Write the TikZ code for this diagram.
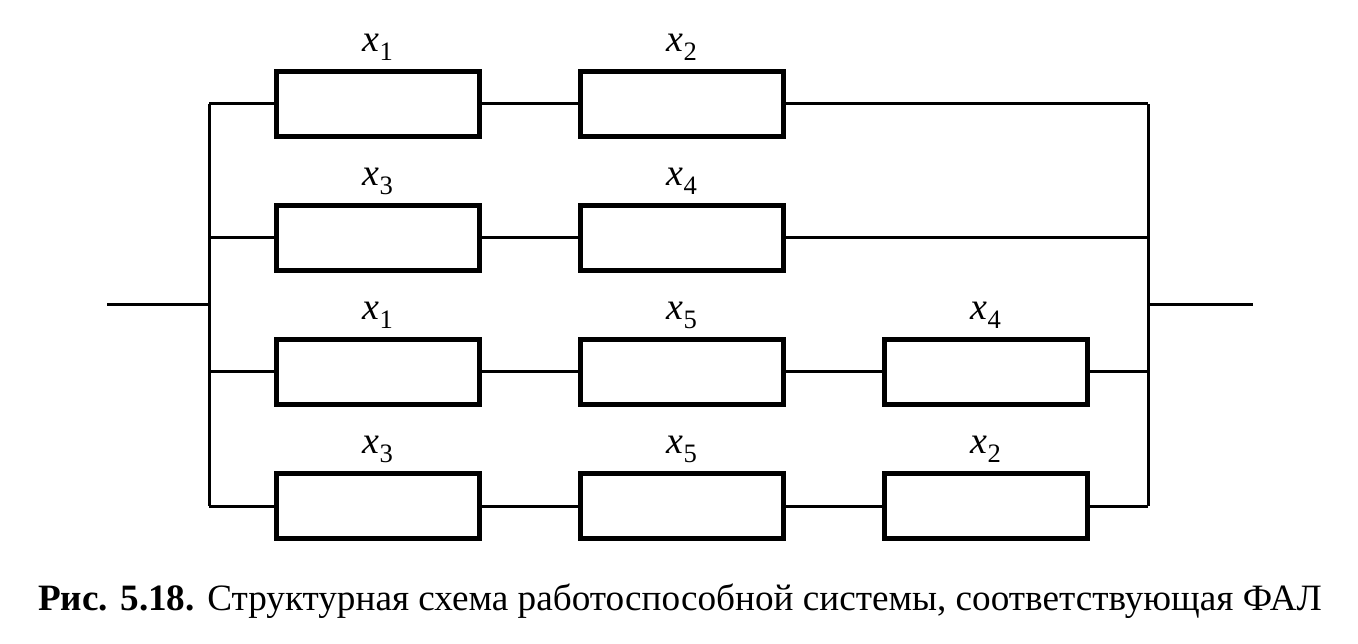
\documentclass[tikz,border=0pt]{standalone}
\usepackage{fontspec}
\setmainfont{Liberation Serif}
\usetikzlibrary{positioning}
\newcommand\xv[1]{\textit{x}\textsubscript{#1}}

\begin{document}
\begin{tikzpicture}
    [x=1pt, y=-1pt,
    blk/.style={draw, line width=5pt, minimum width=203pt, minimum height=65pt, inner sep=0pt,
      label={[lbl]above:#1}},
    lbl/.style={font=\fontsize{38}{40}\selectfont, inner sep=0pt, label distance=8pt},
    wire/.style={draw, line width=3pt}]
    \useasboundingbox (0,0) rectangle (1358,644);
    % first column
    \node [blk=\xv{1}] (A1) at (378,104) {};
    \node [blk=\xv{3}, below=64pt of A1] (B1) {};
    \node [blk=\xv{1}, below=64pt of B1] (C1) {};
    \node [blk=\xv{3}, below=64pt of C1] (D1) {};
    % second column
    \node [blk=\xv{2}, right=96pt of A1] (A2) {};
    \node [blk=\xv{4}, right=96pt of B1] (B2) {};
    \node [blk=\xv{5}, right=96pt of C1] (C2) {};
    \node [blk=\xv{5}, right=96pt of D1] (D2) {};
    % third column
    \node [blk=\xv{4}, right=96pt of C2] (C3) {};
    \node [blk=\xv{2}, right=96pt of D2] (D3) {};
    \coordinate (in) at (107,305);
    \coordinate (L) at (209,305);
    \coordinate (R) at (1148,305);
    \coordinate (out) at (1253,305);
    % buses
    \path [wire] (in) -- (L);
    \path [wire] (R) -- (out);
    \path [wire] (A1.west -| L) -- (D1.west -| L);
    \path [wire] (A2.east -| R) -- (D3.east -| R);
    \path [wire] (A1.west -| L) -- (A1.west);
    \path [wire] (B1.west -| L) -- (B1.west);
    \path [wire] (C1.west -| L) -- (C1.west);
    \path [wire] (D1.west -| L) -- (D1.west);
    \path [wire] (A2.east) -- (A2.east -| R);
    \path [wire] (B2.east) -- (B2.east -| R);
    \path [wire] (C3.east) -- (C3.east -| R);
    \path [wire] (D3.east) -- (D3.east -| R);
    % series links
    \path [wire] (A1) -- (A2);
    \path [wire] (B1) -- (B2);
    \path [wire] (C1) -- (C2) (C2) -- (C3);
    \path [wire] (D1) -- (D2) (D2) -- (D3);
    \node [anchor=base, inner sep=0pt, font=\fontsize{37.2}{40}\selectfont] (cap) at (680,610)
      {\textbf{Рис. 5.18.} Структурная схема работоспособной системы, соответствующая ФАЛ};
\end{tikzpicture}
\end{document}
